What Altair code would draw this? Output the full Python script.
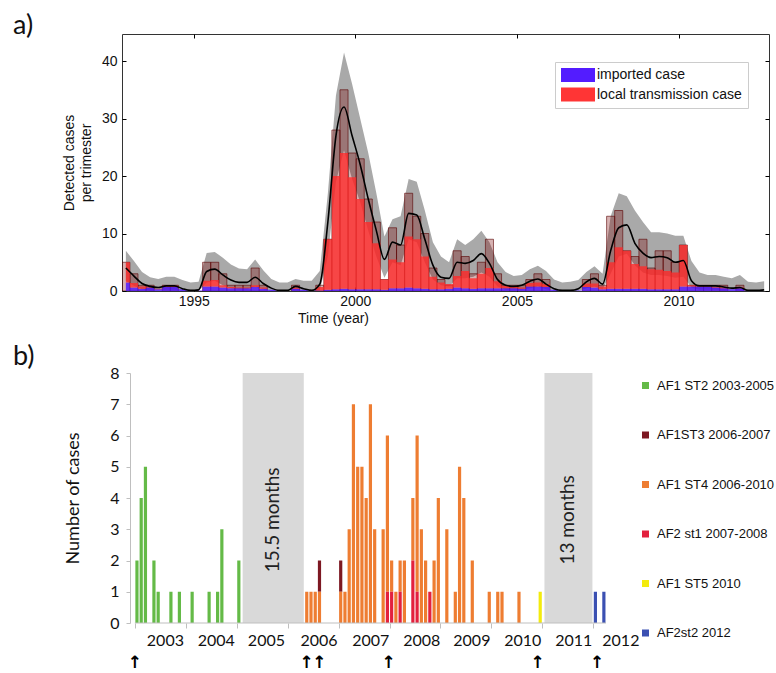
import altair as alt
import pandas as pd

# ---------------- panel a data (quarterly) ----------------
quarter_centre = [round(1992.9 + 0.25 * i, 3) for i in range(80)]
detected_total = [5, 3, 1, 1, 0, 1, 1, 0, 0, 0,
                  5, 5, 3, 1, 1, 1, 4, 1, 0, 0,
                  0, 1, 0, 0, 1, 9, 28, 35, 24, 23,
                  16, 12, 2, 11, 8, 17, 13, 10, 4, 2,
                  1, 7, 6, 3, 5, 9, 3, 1, 1, 1,
                  2, 3, 2, 0, 0, 0, 0, 2, 3, 1,
                  13, 14, 7, 6, 9, 4, 7, 7, 5, 8,
                  1, 1, 1, 1, 1, 0, 1, 0, 0, 0]
imported_est = [1.5, 0.6, 0.4, 0.6, 0.3, 0.7, 0.7, 0.3, 0.1, 0.1,
                0.8, 0.8, 0.6, 0.5, 0.5, 0.5, 0.7, 0.4, 0.2, 0.1,
                0.0, 0.4, 0.2, 0.1, 0.1, 0.2, 0.3, 0.4, 0.3, 0.3,
                0.3, 0.3, 0.2, 0.5, 0.5, 0.6, 0.5, 0.4, 0.3, 0.3,
                0.4, 0.6, 0.5, 0.4, 0.5, 0.5, 0.5, 0.5, 0.5, 0.4,
                0.8, 0.8, 0.7, 0.2, 0.0, 0.0, 0.1, 0.7, 0.6, 0.3,
                0.4, 0.4, 0.4, 0.4, 0.4, 0.3, 0.3, 0.3, 0.3, 0.8,
                0.8, 0.8, 0.8, 0.6, 0.5, 0.3, 0.5, 0.1, 0.0, 0.0]
local_est = [3.5, 0.8, 0.4, 0.2, 0.1, 0.2, 0.2, 0.0, 0.0, 0.0,
             1.0, 1.1, 0.4, 0.2, 0.1, 0.1, 0.3, 0.2, 0.0, 0.0,
             0.0, 0.2, 0.0, 0.0, 0.6, 8.8, 19.7, 23.6, 19.5, 15.7,
             11.7, 8.0, 1.8, 5.0, 4.5, 8.9, 8.5, 5.6, 2.2, 1.2,
             0.8, 2.0, 3.0, 1.8, 2.5, 3.5, 1.2, 0.4, 0.2, 0.2,
             0.6, 0.7, 0.5, 0.0, 0.0, 0.0, 0.0, 0.6, 0.7, 0.5,
             4.6, 7.2, 6.6, 4.3, 3.9, 3.5, 3.4, 3.2, 2.9, 7.2,
             0.2, 0.1, 0.1, 0.1, 0.1, 0.0, 0.1, 0.0, 0.0, 0.0]
model_mean = [4.0, 2.6, 1.3, 0.8, 0.6, 0.9, 0.9, 0.4, 0.1, 0.2,
              3.4, 3.8, 2.8, 1.9, 1.5, 1.5, 2.4, 1.3, 0.5, 0.1,
              0.1, 0.8, 0.4, 0.1, 1.2, 12.0, 27.0, 32.0, 27.0, 22.0,
              16.0, 10.5, 5.5, 8.5, 8.0, 13.5, 13.2, 9.0, 4.5, 2.4,
              2.2, 5.0, 4.8, 5.3, 6.5, 4.8, 2.0, 1.0, 0.8, 1.0,
              1.7, 2.1, 1.2, 0.4, 0.1, 0.1, 0.4, 1.6, 2.2, 1.2,
              7.0, 11.0, 11.5, 8.3, 6.6, 5.8, 6.0, 5.8, 5.0, 5.3,
              1.8, 0.9, 0.9, 0.9, 0.7, 0.5, 0.6, 0.1, 0.1, 0.2]
band_upper = [7.0, 5.2, 3.3, 2.4, 2.1, 2.5, 2.5, 1.9, 1.5, 1.6,
              6.6, 6.8, 5.8, 4.6, 3.9, 3.8, 5.5, 3.6, 2.1, 1.5,
              1.5, 2.1, 1.8, 1.8, 3.5, 17.0, 34.0, 41.5, 36.0, 30.0,
              24.0, 17.0, 9.5, 12.5, 13.0, 19.5, 19.0, 14.0, 8.5, 6.0,
              5.0, 9.0, 8.0, 9.0, 10.5, 8.5, 5.0, 3.3, 2.6, 2.8,
              3.8, 4.4, 3.5, 2.0, 1.5, 1.6, 1.9, 3.3, 4.3, 3.0,
              13.0, 17.0, 16.5, 14.0, 12.0, 10.2, 10.2, 10.0, 9.6, 9.6,
              5.2, 3.2, 2.8, 2.8, 2.5, 2.2, 2.8, 1.6, 1.5, 1.7]
band_lower = [1.8, 0.9, 0.3, 0.1, 0.1, 0.2, 0.2, 0.0, 0.0, 0.0,
              1.5, 1.8, 1.0, 0.5, 0.3, 0.3, 0.8, 0.3, 0.0, 0.0,
              0.0, 0.1, 0.0, 0.0, 0.1, 6.0, 19.0, 24.5, 19.5, 15.5,
              10.5, 6.0, 2.3, 5.0, 4.5, 9.0, 8.5, 5.0, 2.0, 1.0,
              0.8, 2.2, 2.2, 2.5, 3.2, 2.5, 0.8, 0.2, 0.2, 0.2,
              0.5, 0.8, 0.3, 0.0, 0.0, 0.0, 0.0, 0.5, 0.8, 0.3,
              3.0, 6.0, 6.5, 4.5, 3.2, 2.8, 2.8, 2.6, 2.3, 2.5,
              0.6, 0.2, 0.2, 0.2, 0.1, 0.1, 0.1, 0.0, 0.0, 0.0]
a_year_ticks = [1995, 2000, 2005, 2010]
a_count_ticks = [0, 10, 20, 30, 40]
a_types = ["imported case", "local transmission case"]
a_type_colors = ["#4a10ff", "#ff2a2a"]

# ---------------- panel b data (monthly, months since Jan 2003) ----------------
b_strains = ["AF1 ST2 2003-2005", "AF1ST3 2006-2007", "AF1 ST4 2006-2010",
             "AF2 st1 2007-2008", "AF1 ST5 2010", "AF2st2 2012"]
b_colors = ["#64ba47", "#7d1822", "#ee7d32", "#e3213e", "#f3eb0d", "#3b50b2"]
st2_months = [0, 1, 2, 4, 5, 8, 10, 13, 17, 19, 20, 24]
st2_counts = [2, 4, 5, 2, 1, 1, 1, 1, 1, 1, 3, 2]
st3_months = [43, 48]
st3_counts = [1, 1]
st4_months = [40, 41, 42, 43, 48, 49, 50, 51, 52, 53, 54, 55, 56, 58, 59, 60, 61,
              62, 63, 65, 66, 67, 68, 70, 71, 73, 75, 76, 77, 79, 83, 85, 86, 90]
st4_counts = [1, 1, 1, 1, 1, 1, 3, 7, 5, 5, 4, 7, 3, 3, 5, 1, 1,
              1, 2, 2, 5, 3, 2, 2, 4, 3, 1, 5, 4, 2, 1, 1, 1, 1]
af2st1_months = [59, 60, 62, 65, 66, 69]
af2st1_counts = [1, 1, 1, 2, 1, 1]
st5_months = [95]
st5_counts = [1]
af2st2_months = [108, 110]
af2st2_counts = [1, 1]
b_year_labels = ["2003", "2004", "2005", "2006", "2007", "2008", "2009", "2010", "2011", "2012"]
b_year_label_pos = [7.2, 19.2, 31.0, 43.4, 55.6, 67.6, 79.4, 91.4, 103.4, 114.5]
b_year_bounds = [0, 12, 24, 36, 48, 60, 72, 84, 96, 108]
b_count_ticks = [0, 1, 2, 3, 4, 5, 6, 7, 8]
gap_start = [25.4, 96.5]
gap_end = [39.8, 107.8]
gap_text = ["15.5 months", "13 months"]
arrow_months = [0.0, 40.5, 43.5, 59.8, 94.9, 108.9]

# ---------------- panel a ----------------
dfa = pd.DataFrame({"t": quarter_centre, "total": detected_total, "imp": imported_est,
                    "loc": local_est, "mean": model_mean, "hi": band_upper, "lo": band_lower})
area_df = pd.concat([
    pd.DataFrame({"t": dfa["t"], "y0": 0.0, "y1": dfa["imp"], "type": a_types[0]}),
    pd.DataFrame({"t": dfa["t"], "y0": dfa["imp"], "y1": dfa["imp"] + dfa["loc"], "type": a_types[1]}),
], ignore_index=True)

xa = alt.Scale(domain=[1992.78, 2012.8], nice=False, zero=False)
ya = alt.Scale(domain=[0, 44.7], nice=False)
AF = "Liberation Sans"

band = alt.Chart(dfa).mark_area(color="#a9a9a9", clip=True).encode(
    x=alt.X("t:Q", scale=xa, axis=alt.Axis(
        values=a_year_ticks, format="d", orient="bottom", offset=-4, tickSize=4, domain=False,
        grid=False, tickColor="black", labelFont=AF, labelFontSize=14, labelColor="#111",
        labelPadding=3, title="Time (year)", titleFont=AF, titleFontSize=14,
        titleFontWeight="normal", titleColor="#111", titlePadding=3, titleX=211)),
    y=alt.Y("lo:Q", scale=ya, axis=alt.Axis(
        values=a_count_ticks, orient="left", offset=-4, tickSize=4, domain=False, grid=False,
        tickColor="black", labelFont=AF, labelFontSize=14, labelColor="#111", labelPadding=5,
        title=["Detected cases", "per trimester"], titleFont=AF, titleFontSize=14,
        titleFontWeight="normal", titleColor="#111", titlePadding=8, titleLineHeight=17)),
    y2="hi:Q",
)

bars = alt.Chart(dfa).transform_filter("datum.total > 0").transform_calculate(
    x0="datum.t - 0.125", x1="datum.t + 0.125"
).mark_bar(fill="#7a0000", fillOpacity=0.3, stroke="#5a0000", strokeOpacity=0.6,
           strokeWidth=1, clip=True).encode(
    x=alt.X("x0:Q", scale=xa, axis=None), x2="x1:Q",
    y=alt.Y("total:Q", scale=ya, axis=None), y2=alt.Y2Datum(0),
)

areas = alt.Chart(area_df).mark_area(interpolate="step", opacity=0.8, clip=True).encode(
    x=alt.X("t:Q", scale=xa, axis=None),
    y=alt.Y("y0:Q", scale=ya, axis=None), y2="y1:Q",
    color=alt.Color("type:N", scale=alt.Scale(domain=a_types, range=a_type_colors),
                    legend=alt.Legend(orient="none", legendX=433, legendY=28, title=None,
                                      symbolType="M-1,-1H3.857V1H-1Z", symbolSize=196,
                                      symbolOpacity=0.95, symbolStrokeWidth=0,
                                      labelFont=AF, labelFontSize=14, labelColor="#111",
                                      labelOffset=22, rowPadding=5.5, padding=6,
                                      strokeColor="#cccccc", fillColor="white", labelLimit=0)),
)

line = alt.Chart(dfa).mark_line(color="black", strokeWidth=1.6, interpolate="monotone",
                                clip=True).encode(
    x=alt.X("t:Q", scale=xa, axis=alt.Axis(values=a_year_ticks, orient="top", offset=-4,
                                           tickSize=4, domain=False, labels=False, grid=False,
                                           tickColor="black", title=None)),
    y=alt.Y("mean:Q", scale=ya, axis=alt.Axis(values=a_count_ticks, orient="right", offset=-4,
                                              tickSize=4, domain=False, labels=False,
                                              grid=False, tickColor="black", title=None)),
)

panel_a = alt.layer(band, bars, areas, line).resolve_axis(x="independent", y="independent").properties(
    width=647, height=257,
    view=alt.ViewBackground(stroke="#333333", strokeWidth=1),
    title=alt.Title("a)", anchor="start", frame="group", dx=-109, font="Lato",
                    fontSize=27, fontWeight="normal", color="#111", offset=-6),
)

# ---------------- panel b ----------------
rows = []
def add(strain, months, counts, order):
    for m, c in zip(months, counts):
        rows.append({"strain": strain, "mc": m + 0.5, "n": c, "ord": order})

add(b_strains[0], st2_months, st2_counts, 0)
add(b_strains[1], st3_months, st3_counts, 2)
add(b_strains[2], st4_months, st4_counts, 1)
add(b_strains[3], af2st1_months, af2st1_counts, 0)
add(b_strains[4], st5_months, st5_counts, 0)
add(b_strains[5], af2st2_months, af2st2_counts, 0)
dfb = pd.DataFrame(rows)

xb = alt.Scale(domain=[-1.846, 111.0], nice=False, zero=False)
yb = alt.Scale(domain=[0, 8], nice=False)
BF = "Lato"

x_axis_b = alt.Axis(values=b_year_bounds, labels=False, tickSize=5, tickColor="#bfbfbf",
                    domain=False, grid=False, title=None)
y_axis_b = alt.Axis(values=b_count_ticks, offset=-8, tickSize=4, tickColor="#bfbfbf",
                    domainColor="#bfbfbf", grid=False, labelFont=BF, labelFontSize=16,
                    labelColor="#111", labelPadding=7, labelOverlap=False, labelBound=False,
                    title="Number of cases", titleFont=BF, titleFontSize=18,
                    titleFontWeight="normal", titleColor="#111", titlePadding=27)

gaps = pd.DataFrame({"s": gap_start, "e": gap_end, "label": gap_text})
gap_rect = alt.Chart(gaps).mark_rect(color="#d9d9d9").encode(
    x=alt.X("s:Q", scale=xb, axis=x_axis_b), x2="e:Q",
    y=alt.YDatum(0, scale=yb, axis=y_axis_b), y2=alt.Y2Datum(8),
)
gap_lbl = alt.Chart(gaps).transform_calculate(mid="(datum.s + datum.e) / 2").mark_text(
    angle=270, font=BF, fontSize=19, color="#222").encode(
    x=alt.X("mid:Q", scale=xb, axis=x_axis_b),
    y=alt.YDatum(3.3, scale=yb, axis=y_axis_b),
    text="label:N",
)

bbars = alt.Chart(dfb).mark_bar(width=3.2).encode(
    x=alt.X("mc:Q", scale=xb, axis=x_axis_b),
    y=alt.Y("n:Q", stack="zero", scale=yb, axis=y_axis_b),
    color=alt.Color("strain:N", scale=alt.Scale(domain=b_strains, range=b_colors),
                    legend=alt.Legend(orient="none", legendX=517, legendY=6, title=None,
                                      symbolType="square", symbolSize=49, symbolStrokeWidth=0,
                                      labelFont="Liberation Sans", labelFontSize=13,
                                      labelColor="#111", rowPadding=35.5, labelLimit=0,
                                      labelOffset=5)),
    order=alt.Order("ord:Q"),
)

xline = alt.Chart(pd.DataFrame({"a": [0]})).mark_rule(color="#bfbfbf", strokeWidth=1).encode(
    x=alt.XDatum(0, scale=xb, axis=x_axis_b), x2=alt.X2Datum(111.0),
    y=alt.YDatum(0, scale=yb, axis=y_axis_b),
)

years = alt.Chart(pd.DataFrame({"p": b_year_label_pos, "lab": b_year_labels})).mark_text(
    font=BF, fontSize=16, color="#111").encode(
    x=alt.X("p:Q", scale=xb, axis=x_axis_b), y=alt.value(268), text="lab:N",
)

arrows = alt.Chart(pd.DataFrame({"m": arrow_months})).mark_text(
    text="↑", font="DejaVu Sans", fontWeight="bold", fontSize=17, color="black").encode(
    x=alt.X("m:Q", scale=xb, axis=x_axis_b), y=alt.value(290),
)

panel_b = alt.layer(gap_rect, gap_lbl, bbars, xline, years, arrows).properties(
    width=489, height=250,
    view=alt.ViewBackground(stroke=None),
    title=alt.Title("b)", anchor="start", frame="group", dx=-109, font="Lato",
                    fontSize=27, fontWeight="normal", color="#111", offset=-6),
)

chart = alt.vconcat(panel_a, panel_b, spacing=17).resolve_scale(color="independent").properties(
    padding={"left": 12, "top": 11, "right": 0, "bottom": 0},
    background="white",
).configure_view(stroke=None)

chart.save("out.html", embed_options={"renderer": "svg", "actions": False})
